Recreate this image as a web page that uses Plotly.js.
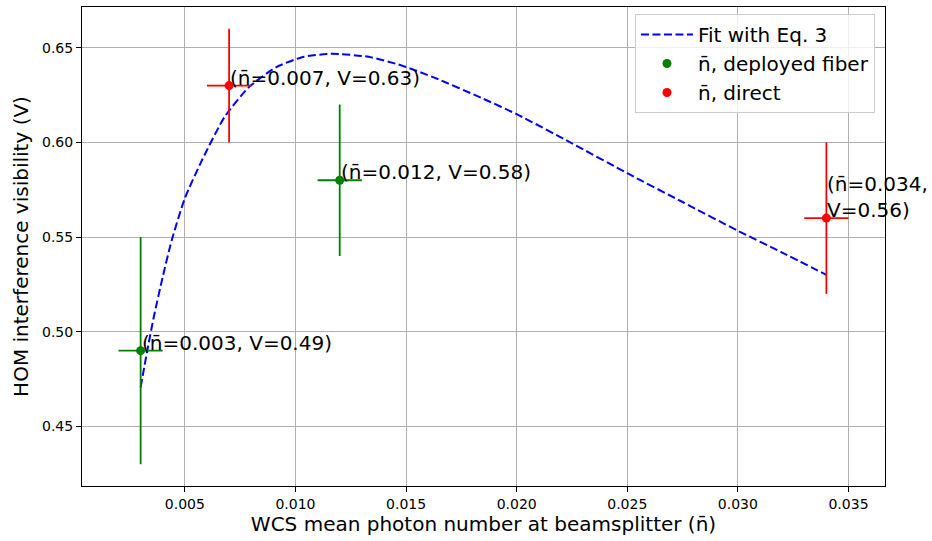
<!DOCTYPE html>
<html>
<head>
<meta charset="utf-8">
<script src="https://cdn.plot.ly/plotly-3.0.1.min.js"></script>
<style>html,body{margin:0;padding:0;background:#fff;}#chart{width:932px;height:541px;}</style>
</head>
<body>
<div id="chart"></div>
<script>
// Fit curve
const fitX = [0.0030,0.0033,0.0036,0.0040,0.0044,0.0050,0.0058,0.0068,0.0079,0.0091,0.0103,0.0116,0.0133,0.0148,0.0163,0.0184,0.0200,0.0225,0.0250,0.0275,0.0300,0.0320,0.0340];
const fitY = [0.4706,0.4900,0.5080,0.5290,0.5480,0.5705,0.5912,0.6135,0.6292,0.6395,0.6450,0.6468,0.6452,0.6406,0.6341,0.6235,0.6149,0.5995,0.5837,0.5685,0.5533,0.5418,0.5300];

// Deployed fiber points
const fiberX = [0.003, 0.012];
const fiberY = [0.49, 0.58];
const fiberXErr = [0.001, 0.001];
const fiberYErr = [0.06, 0.04];

// Direct points
const directX = [0.007, 0.034];
const directY = [0.63, 0.56];
const directXErr = [0.001, 0.001];
const directYErr = [0.03, 0.04];

// Point labels
const labelX = [0.003, 0.007, 0.012, 0.034];
const labelY = [0.49, 0.63, 0.58, 0.56];
const labelText = ['(n\u0304=0.003, V=0.49)', '(n\u0304=0.007, V=0.63)', '(n\u0304=0.012, V=0.58)', '(n\u0304=0.034,<br>V=0.56)'];

// Ticks
const xTickVals = [0.005, 0.010, 0.015, 0.020, 0.025, 0.030, 0.035];
const xTickText = ['0.005', '0.010', '0.015', '0.020', '0.025', '0.030', '0.035'];
const yTickVals = [0.45, 0.50, 0.55, 0.60, 0.65];
const yTickText = ['0.45', '0.50', '0.55', '0.60', '0.65'];

const FONT = 'DejaVu Sans, sans-serif';

const traces = [
  {
    x: fitX, y: fitY, type: 'scatter', mode: 'lines',
    name: 'Fit with Eq. 3',
    line: {color: '#0000ff', width: 2, dash: '8px,3.5px', shape: 'spline', smoothing: 0.6}
  },
  {
    x: fiberX, y: fiberY, type: 'scatter', mode: 'markers',
    name: 'n\u0304, deployed fiber',
    marker: {color: '#008000', size: 9},
    error_x: {type: 'data', array: fiberXErr, visible: true, color: '#008000', thickness: 1.8, width: 0},
    error_y: {type: 'data', array: fiberYErr, visible: true, color: '#008000', thickness: 1.8, width: 0}
  },
  {
    x: directX, y: directY, type: 'scatter', mode: 'markers',
    name: 'n\u0304, direct',
    marker: {color: '#ff0000', size: 9},
    error_x: {type: 'data', array: directXErr, visible: true, color: '#ff0000', thickness: 1.8, width: 0},
    error_y: {type: 'data', array: directYErr, visible: true, color: '#ff0000', thickness: 1.8, width: 0}
  }
];

const annotations = labelText.map((t, i) => ({
  x: labelX[i], y: labelY[i], xref: 'x', yref: 'y',
  text: t, showarrow: false, xanchor: 'left', yanchor: 'bottom', align: 'left',
  yshift: -6, xshift: -1,
  font: {family: FONT, size: 20, color: '#000'}
}));

const axisCommon = {
  showline: true, mirror: true, linecolor: '#000', linewidth: 1,
  ticks: 'outside', ticklen: 5, tickwidth: 1, tickcolor: '#000',
  showgrid: true, gridcolor: '#b0b0b0', gridwidth: 1, zeroline: false,
  tickfont: {family: FONT, size: 14, color: '#000'}
};

const layout = {
  width: 932, height: 541,
  margin: {l: 82, r: 47, t: 7, b: 55},
  paper_bgcolor: '#fff', plot_bgcolor: '#fff',
  font: {family: FONT, color: '#000'},
  showlegend: true,
  legend: {
    x: 0.9875, xanchor: 'right', y: 0.9854, yanchor: 'top',
    itemwidth: 52,
    bgcolor: 'rgba(255,255,255,0.8)', bordercolor: '#cccccc', borderwidth: 1,
    font: {family: FONT, size: 20, color: '#000'}
  },
  xaxis: Object.assign({}, axisCommon, {
    range: [0.00035, 0.03665],
    tickmode: 'array', tickvals: xTickVals, ticktext: xTickText,
    title: {text: 'WCS mean photon number at beamsplitter (n\u0304)', font: {family: FONT, size: 20, color: '#000'}, standoff: 6}
  }),
  yaxis: Object.assign({}, axisCommon, {
    range: [0.4185, 0.6715],
    tickmode: 'array', tickvals: yTickVals, ticktext: yTickText,
    title: {text: 'HOM interference visibility (V)', font: {family: FONT, size: 20, color: '#000'}, standoff: 8}
  }),
  annotations: annotations
};

Plotly.newPlot('chart', traces, layout, {displayModeBar: false, staticPlot: true});
</script>
</body>
</html>
